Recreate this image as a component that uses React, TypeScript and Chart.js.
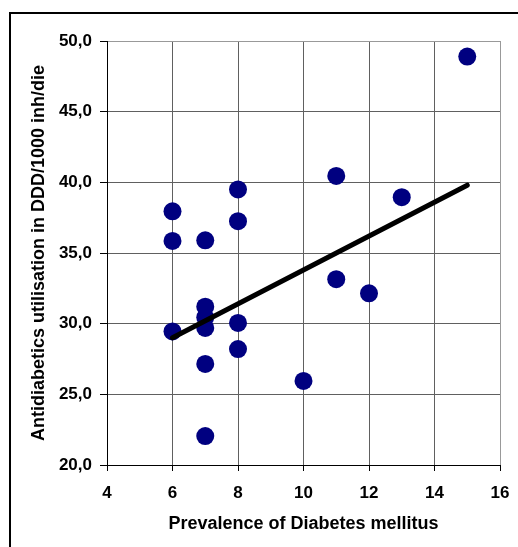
import React, { useEffect, useRef } from "react";
import { Chart, registerables } from "chart.js";

Chart.register(...registerables);

const prevalence = [15, 11, 13, 8, 6, 8, 6, 7, 11, 12, 7, 7, 7, 6, 8, 8, 7, 10, 7];
const utilisation = [48.9, 40.45, 38.95, 39.5, 37.95, 37.25, 35.85, 35.9, 33.15, 32.15, 31.2, 30.45, 29.7, 29.45, 30.05, 28.2, 27.15, 25.95, 22.05];
const trendX = [6, 15];
const trendY = [29.0, 39.8];

const xTitle = "Prevalence of Diabetes mellitus";
const yTitle = "Antidiabetics utilisation in DDD/1000 inh/die";

const FONT = "'Liberation Sans', Arial, Helvetica, sans-serif";

export default function App() {
  const ref = useRef<HTMLCanvasElement | null>(null);

  useEffect(() => {
    if (!ref.current) return;
    const chart = new Chart(ref.current, {
      type: "scatter",
      data: {
        datasets: [
          {
            type: "line",
            data: trendX.map((x, i) => ({ x, y: trendY[i] })),
            borderColor: "#000000",
            borderWidth: 5,
            pointRadius: 0,
            fill: false,
            order: 0,
            borderCapStyle: "round",
          } as any,
          {
            data: prevalence.map((x, i) => ({ x, y: utilisation[i] })),
            backgroundColor: "#000080",
            borderColor: "#000080",
            borderWidth: 0,
            pointRadius: 9,
            order: 1,
          },
        ],
      },
      options: {
        animation: false,
        responsive: false,
        maintainAspectRatio: false,
        layout: { padding: { left: 0, right: 24, top: 41, bottom: 0 } },
        plugins: { legend: { display: false }, tooltip: { enabled: false } },
        scales: {
          x: {
            type: "linear",
            min: 4,
            max: 16,
            ticks: {
              stepSize: 2,
              color: "#000",
              font: { family: FONT, size: 17, weight: "bold" },
              padding: 12,
              maxRotation: 0,
            },
            grid: {
              color: (ctx: any) => (ctx.tick && ctx.tick.value === 16 ? "#999999" : "#606060"),
              tickColor: "#000",
              tickLength: 6,
              lineWidth: 1,
            },
            border: { color: "#000", width: 1 },
            title: {
              display: true,
              text: xTitle,
              color: "#000",
              font: { family: FONT, size: 18, weight: "bold" },
              padding: { top: 0, bottom: 12 },
            },
            afterFit: (scale: any) => {
              scale.height = 82;
            },
          },
          y: {
            type: "linear",
            min: 20,
            max: 50,
            ticks: {
              stepSize: 5,
              color: "#000",
              font: { family: FONT, size: 17, weight: "bold" },
              padding: 8,
              callback: (v: any) => Number(v).toFixed(1).replace(".", ","),
            },
            grid: {
              color: (ctx: any) => (ctx.tick && ctx.tick.value === 50 ? "#999999" : "#606060"),
              tickColor: "#000",
              tickLength: 7,
              lineWidth: 1,
            },
            border: { color: "#000", width: 1 },
            title: {
              display: true,
              text: yTitle,
              color: "#000",
              font: { family: FONT, size: 18, weight: "bold" },
              padding: { top: 28, bottom: 0 },
            },
            afterFit: (scale: any) => {
              scale.width = 107;
            },
          },
        },
      },
    });
    return () => chart.destroy();
  }, []);

  return (
    <>
      <div
        style={{
          position: "fixed",
          left: 9,
          top: 12,
          width: 700,
          height: 700,
          borderLeft: "2px solid #000",
          borderTop: "2px solid #000",
          boxSizing: "border-box",
        }}
      />
      <canvas
        ref={ref}
        width={524}
        height={547}
        style={{ position: "fixed", left: 0, top: 0, width: 524, height: 547 }}
      />
    </>
  );
}
